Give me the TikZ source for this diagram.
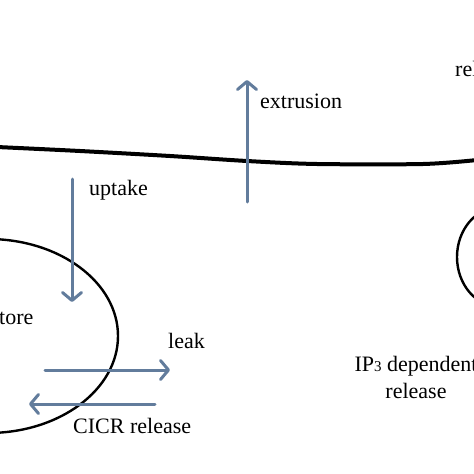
\documentclass[tikz,border=0pt]{standalone}
\usepackage{fontspec}
\setmainfont{Liberation Serif}
\usepackage{tikz}
\usetikzlibrary{arrows.meta,positioning}
\definecolor{fluxblue}{RGB}{98,124,156}
\tikzstyle{flux} = [draw=fluxblue, line width=3pt, line cap=round,
    -{Straight Barb[length=8pt,width=19pt,line cap=round,line join=round]}]
\tikzstyle{membrane} = [draw, line width=4pt]
\tikzstyle{organelle} = [draw, line width=2.4pt]
\tikzstyle{label} = [inner sep=0pt, font=\fontsize{22}{27}\selectfont]

\begin{document}
\begin{tikzpicture}[x=1pt, y=-1pt]
 \useasboundingbox (0,0) rectangle (474,474);
 \clip (0,0) rectangle (474,474);
 % Cell membrane and stores
   \draw[membrane] plot[smooth, tension=0.5] coordinates {(-3,147) (80,151) (170,156) (247,161) (317,164) (423,164) (477,160)};
   \draw[organelle] (-12,336) ellipse [x radius=130, y radius=97];
   \draw[organelle] (500,257) ellipse [x radius=43, y radius=50];

 % Arrow ends
   \coordinate (extS) at (247,202); \coordinate (extE) at (247,80);
   \coordinate (upS) at (72,179); \coordinate (upE) at (72,302);
   \coordinate (lkS) at (45,370); \coordinate (lkE) at (170,370);
   \coordinate (ciS) at (155,404); \coordinate (ciE) at (29,404);

 % Labels
   \node[label, anchor=west] (extrusion) at (260,101) {extrusion};
   \node[label, anchor=west] (uptake) at (89,190) {uptake};
   \node[label, anchor=west] (store) at (-1,318) {tore};
   \node[label, anchor=west] (leak) at (168,341) {leak};
   \node[label, anchor=west] (cicr) at (73,426) {CICR release};
   \node[label, align=center] (ipthree) at (416,377) {IP{\fontsize{15}{15}\selectfont 3} dependent\\release};
   \node[label, anchor=west] (release) at (455,69) {rel};

 % Fluxes
   \path [flux] (extS) -- (extE);
   \path [flux] (upS) -- (upE);
   \path [flux] (lkS) -- (lkE);
   \path [flux] (ciS) -- (ciE);
\end{tikzpicture}
\end{document}
